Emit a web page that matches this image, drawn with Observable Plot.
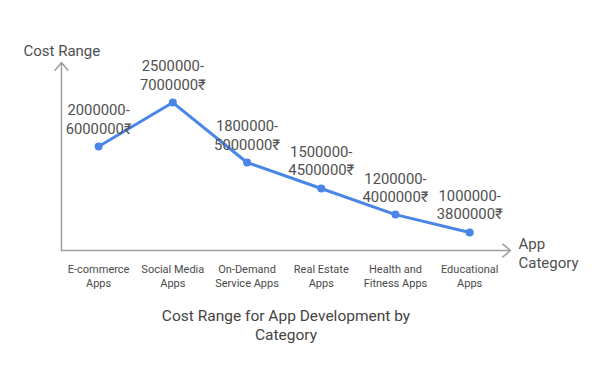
<!DOCTYPE html>
<html>
<head>
<meta charset="utf-8">
<script src="https://cdn.jsdelivr.net/npm/d3@7"></script>
<script src="https://cdn.jsdelivr.net/npm/@observablehq/plot@0.6"></script>
<style>
  html, body { margin: 0; padding: 0; background: #fff; }
  #chart svg { display: block; }
</style>
</head>
<body>
<div id="chart"></div>
<script>
const categories = [
  "E-commerce\nApps",
  "Social Media\nApps",
  "On-Demand\nService Apps",
  "Real Estate\nApps",
  "Health and\nFitness Apps",
  "Educational\nApps"
];
const costLabels = [
  "2000000-\n6000000₹",
  "2500000-\n7000000₹",
  "1800000-\n5000000₹",
  "1500000-\n4500000₹",
  "1200000-\n4000000₹",
  "1000000-\n3800000₹"
];
// relative plotted level of each point
const levels = [5.53, 7.87, 4.68, 3.30, 1.91, 0.96];

const titleText = "Cost Range for App Development by\nCategory";
const yTitle = "Cost Range";
const xTitle = "App\nCategory";

const xDomain = [-0.5, 5.55];
const yDomain = [0, 10];

const data = categories.map((c, i) => ({i, cat: c, label: costLabels[i], v: levels[i]}));

const axisColor = "#9e9e9e";
const textColor = "#505050";

const chart = Plot.plot({
  width: 600,
  height: 381,
  marginLeft: 61,
  marginRight: 90,
  marginTop: 62,
  marginBottom: 131,
  x: {domain: xDomain, axis: null},
  y: {domain: yDomain, axis: null},
  style: {fontFamily: "Roboto, 'Noto Sans', sans-serif", background: "#fff"},
  marks: [
    Plot.arrow([0], {x1: xDomain[0], y1: yDomain[0], x2: xDomain[0], y2: yDomain[1], stroke: axisColor, strokeWidth: 1.5, headLength: 10, headAngle: 80}),
    Plot.arrow([0], {x1: xDomain[0], y1: yDomain[0], x2: xDomain[1], y2: yDomain[0], stroke: axisColor, strokeWidth: 1.5, headLength: 10, headAngle: 80}),
    Plot.line(data, {x: "i", y: "v", stroke: "#4a86e8", strokeWidth: 3, strokeLinejoin: "round"}),
    Plot.dot(data, {x: "i", y: "v", r: 4, fill: "#4a86e8", stroke: "none"}),
    Plot.text(data, {x: "i", y: "v", text: "label", lineAnchor: "bottom", dy: -13, fontSize: 14.8, lineHeight: 1.22, fill: textColor}),
    Plot.text(data, {x: "i", y: yDomain[0], text: "cat", lineAnchor: "top", dy: 12, fontSize: 11, lineHeight: 1.3, fill: "#4a4a4a"}),
    Plot.text([titleText], {frameAnchor: "bottom", text: d => d, lineAnchor: "top", dy: 58, fontSize: 15.5, lineHeight: 1.17, fill: "#444"}),
    Plot.text([yTitle], {frameAnchor: "top-left", text: d => d, textAnchor: "start", lineAnchor: "bottom", dx: -38, dy: -7, fontSize: 15, fill: textColor}),
    Plot.text([xTitle], {frameAnchor: "bottom-right", text: d => d, textAnchor: "start", lineAnchor: "bottom", dx: 8, dy: 17, fontSize: 15, lineHeight: 1.25, fill: textColor})
  ]
});
document.getElementById("chart").appendChild(chart);
</script>
</body>
</html>
